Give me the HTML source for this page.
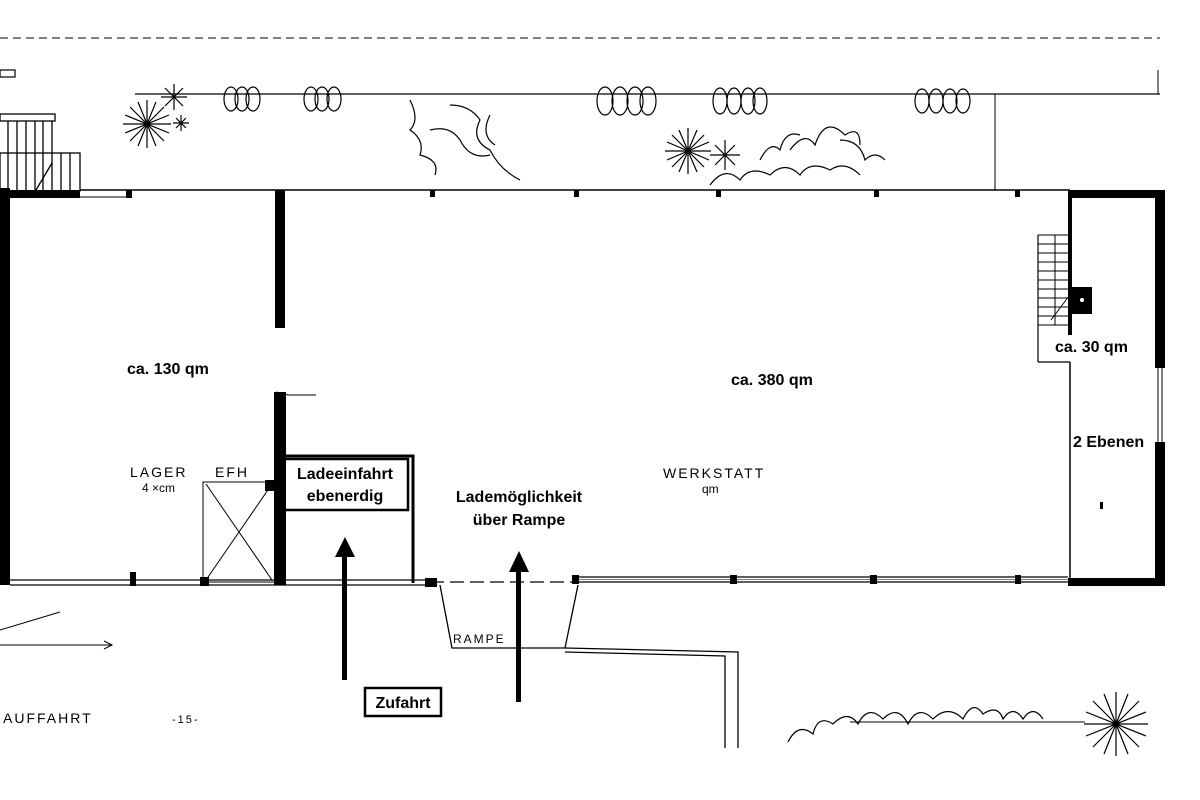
<!DOCTYPE html>
<html><head><meta charset="utf-8"><style>
html,body{margin:0;padding:0;background:#fff}
svg{display:block}
text{font-family:"Liberation Sans",sans-serif}
</style></head><body>
<svg width="1200" height="800" viewBox="0 0 1200 800" xmlns="http://www.w3.org/2000/svg">
<rect width="1200" height="800" fill="#fff"/>
<g stroke="#000" fill="none">
<line x1="0" y1="38" x2="1160" y2="38" stroke-dasharray="8,5" stroke-width="1"/>
<rect x="0" y="70" width="15" height="7" stroke-width="1.2"/>
<line x1="135" y1="94" x2="1160" y2="94" stroke-width="1.2"/>
<line x1="995" y1="94" x2="995" y2="190" stroke-width="1"/>
<line x1="1158" y1="70" x2="1158" y2="94" stroke-width="1"/>
<rect x="0" y="114" width="55" height="7" stroke-width="1.3"/>
<rect x="0" y="153" width="80" height="38" stroke-width="1.3"/>
<g stroke-width="1.3"><line x1="8" y1="121" x2="8" y2="190"/><line x1="17" y1="121" x2="17" y2="190"/><line x1="26" y1="121" x2="26" y2="190"/><line x1="35" y1="121" x2="35" y2="190"/><line x1="43" y1="121" x2="43" y2="190"/><line x1="52" y1="121" x2="52" y2="190"/><line x1="61" y1="153" x2="61" y2="190"/><line x1="70" y1="153" x2="70" y2="190"/><line x1="52" y1="163" x2="36" y2="190"/></g>
<line x1="80" y1="190" x2="1070" y2="190" stroke-width="1.5"/>
<line x1="80" y1="197" x2="130" y2="197" stroke-width="1"/>
<line x1="10" y1="580" x2="430" y2="580" stroke-width="1.2"/>
<line x1="10" y1="585" x2="430" y2="585" stroke-width="1.2"/>
<line x1="430" y1="582" x2="575" y2="582" stroke-dasharray="14,6" stroke-width="1.2"/>
<line x1="575" y1="577" x2="1068" y2="577" stroke-width="1.2"/>
<line x1="575" y1="582" x2="1068" y2="582" stroke-width="1.2"/>
<line x1="575" y1="579.5" x2="1068" y2="579.5" stroke-width="0.6"/>
<rect x="203" y="482" width="72" height="100" stroke-width="1"/>
<line x1="206" y1="484" x2="272" y2="580" stroke-width="1"/>
<line x1="272" y1="484" x2="206" y2="580" stroke-width="1"/>
<polyline points="285,456 413,456 413,583" stroke-width="3"/>
<rect x="283" y="459" width="125" height="51" stroke-width="2.5"/>
<polyline points="276,392 288,395 316,395" stroke-width="1"/>
<polyline points="440,585 452,648 565,648 578,585" stroke-width="1.3"/>
<polyline points="565,648 738,652 738,748" stroke-width="1.3"/>
<polyline points="565,652 725,656 725,748" stroke-width="1.3"/>
<line x1="0" y1="630" x2="60" y2="612" stroke-width="1"/>
<line x1="0" y1="645" x2="112" y2="645" stroke-width="1"/>
<polyline points="104,641 112,645 104,649" stroke-width="1"/>
<line x1="850" y1="722" x2="1085" y2="722" stroke-width="1"/>
<line x1="1070" y1="362" x2="1070" y2="580" stroke-width="1.5"/>
<line x1="1038" y1="235" x2="1038" y2="362" stroke-width="1.2"/>
<line x1="1038" y1="362" x2="1070" y2="362" stroke-width="1.2"/>
<line x1="1055" y1="235" x2="1055" y2="325" stroke-width="1"/>
<g stroke-width="1"><line x1="1038" y1="235" x2="1070" y2="235"/><line x1="1038" y1="244" x2="1070" y2="244"/><line x1="1038" y1="253" x2="1070" y2="253"/><line x1="1038" y1="262" x2="1070" y2="262"/><line x1="1038" y1="271" x2="1070" y2="271"/><line x1="1038" y1="280" x2="1070" y2="280"/><line x1="1038" y1="289" x2="1070" y2="289"/><line x1="1038" y1="298" x2="1070" y2="298"/><line x1="1038" y1="307" x2="1070" y2="307"/><line x1="1038" y1="316" x2="1070" y2="316"/><line x1="1038" y1="325" x2="1070" y2="325"/><line x1="1069" y1="296" x2="1051" y2="320"/></g>
<line x1="1158" y1="368" x2="1158" y2="442" stroke-width="1"/>
<line x1="1162" y1="368" x2="1162" y2="442" stroke-width="1"/>
<g stroke-width="1.2">
<ellipse cx="231" cy="99" rx="7" ry="12"/><ellipse cx="242" cy="99" rx="7" ry="12"/><ellipse cx="253" cy="99" rx="7" ry="12"/>
<ellipse cx="311" cy="99" rx="7" ry="12"/><ellipse cx="322" cy="99" rx="7" ry="12"/><ellipse cx="334" cy="99" rx="7" ry="12"/>
<ellipse cx="605" cy="101" rx="8" ry="14"/><ellipse cx="620" cy="101" rx="8" ry="14"/><ellipse cx="635" cy="101" rx="8" ry="14"/><ellipse cx="648" cy="101" rx="8" ry="14"/>
<ellipse cx="720" cy="101" rx="7" ry="13"/><ellipse cx="734" cy="101" rx="7" ry="13"/><ellipse cx="748" cy="101" rx="7" ry="13"/><ellipse cx="760" cy="101" rx="7" ry="13"/>
<ellipse cx="922" cy="101" rx="7" ry="12"/><ellipse cx="936" cy="101" rx="7" ry="12"/><ellipse cx="950" cy="101" rx="7" ry="12"/><ellipse cx="963" cy="101" rx="7" ry="12"/>
<path d="M410 100 q10 20 0 30 q15 10 10 25 q20 5 15 20 M430 130 q20 -5 30 10 q10 20 30 15 M450 105 q20 0 30 15 q-10 20 10 30 q10 20 30 30 M490 115 q-10 20 5 30"/>
<path d="M710 185 q15 -20 30 -5 q10 -15 30 -5 q15 -15 30 0 q10 -15 30 -5 q15 -10 30 5 M760 160 q10 -20 20 -10 q5 -20 20 -15 M790 150 q15 -20 25 -5 q10 -30 30 -10 q15 -10 15 10 M840 140 q20 0 25 20 q10 -10 20 0"/>
<path d="M788 742 q10 -20 25 -8 q5 -20 20 -10 q15 -15 25 0 q10 -20 25 -5 q15 -15 25 5 q10 -20 25 -5 q15 -15 30 0 q10 -20 20 -5 q15 -10 20 5 q10 -15 20 0 q10 -15 20 0"/>
</g>
<g stroke-width="1.2">
<path d="M147 100 l0 48 M123 124 l48 0 M130 107 l34 34 M164 107 l-34 34 M138 102 l18 44 M156 102 l-18 44 M125 115 l44 18 M169 115 l-44 18"/>
<path d="M174 84 l0 26 M161 97 l26 0 M165 88 l18 18 M183 88 l-18 18"/>
<path d="M181 115 l0 16 M173 123 l16 0 M176 118 l10 10 M186 118 l-10 10"/>
<path d="M688 128 l0 46 M665 151 l46 0 M672 135 l32 32 M704 135 l-32 32 M679 130 l18 42 M697 130 l-18 42 M667 142 l42 18 M709 142 l-42 18"/>
<path d="M725 140 l0 30 M710 155 l30 0 M715 145 l20 20 M735 145 l-20 20"/>
<path d="M1116 692 l0 64 M1084 724 l64 0 M1093 701 l46 46 M1139 701 l-46 46 M1104 694 l24 60 M1128 694 l-24 60 M1086 712 l60 24 M1146 712 l-60 24"/>
</g>
</g>
<g fill="#000">
<rect x="0" y="188" width="10" height="397"/>
<rect x="10" y="190" width="70" height="8"/>
<rect x="126" y="190" width="6" height="8"/>
<rect x="275" y="190" width="10" height="138"/>
<rect x="274" y="392" width="12" height="193"/>
<rect x="265" y="480" width="12" height="11"/>
<rect x="200" y="577" width="9" height="9"/>
<rect x="130" y="572" width="6" height="14"/>
<rect x="425" y="578" width="12" height="9"/>
<rect x="572" y="575" width="7" height="9"/>
<rect x="730" y="575" width="7" height="9"/>
<rect x="870" y="575" width="7" height="9"/>
<rect x="1015" y="575" width="6" height="9"/>
<rect x="430" y="190" width="5" height="7"/><rect x="574" y="190" width="5" height="7"/><rect x="716" y="190" width="5" height="7"/><rect x="874" y="190" width="5" height="7"/><rect x="1015" y="190" width="5" height="7"/>
<rect x="1068" y="190" width="97" height="8"/>
<rect x="1155" y="190" width="10" height="178"/>
<rect x="1155" y="442" width="10" height="143"/>
<rect x="1068" y="578" width="97" height="8"/>
<rect x="1068" y="190" width="4" height="145"/>
<rect x="1070" y="287" width="22" height="27"/>
<rect x="1100" y="502" width="3" height="7"/>
<rect x="342" y="555" width="5" height="125"/>
<polygon points="335,557 345,537 355,557"/>
<rect x="516" y="570" width="5" height="132"/>
<polygon points="509,572 519,551 529,572"/>
</g>
<circle cx="1082" cy="300" r="2" fill="#fff"/>
<rect x="365" y="688" width="76" height="28" fill="none" stroke="#000" stroke-width="2.5"/>
<g font-weight="bold" font-size="16" fill="#000">
<text x="127" y="374">ca. 130 qm</text>
<text x="731" y="385">ca. 380 qm</text>
<text x="1055" y="352">ca. 30 qm</text>
<text x="1073" y="447">2 Ebenen</text>
<text x="345" y="479" text-anchor="middle">Ladeeinfahrt</text>
<text x="345" y="501" text-anchor="middle">ebenerdig</text>
<text x="519" y="502" text-anchor="middle">Lademöglichkeit</text>
<text x="519" y="525" text-anchor="middle">über Rampe</text>
<text x="403" y="708" text-anchor="middle">Zufahrt</text>
</g>
<g font-size="14" fill="#000" letter-spacing="2">
<text x="130" y="477">LAGER</text>
<text x="215" y="477">EFH</text>
<text x="663" y="478">WERKSTATT</text>
<text x="453" y="643" font-size="12">RAMPE</text>
<text x="3" y="723">AUFFAHRT</text>
<text x="172" y="723" font-size="11">-15-</text>
</g>
<g font-size="12" fill="#000">
<text x="142" y="492">4 ×cm</text>
<text x="702" y="493">qm</text>
</g>
</svg>
</body></html>
